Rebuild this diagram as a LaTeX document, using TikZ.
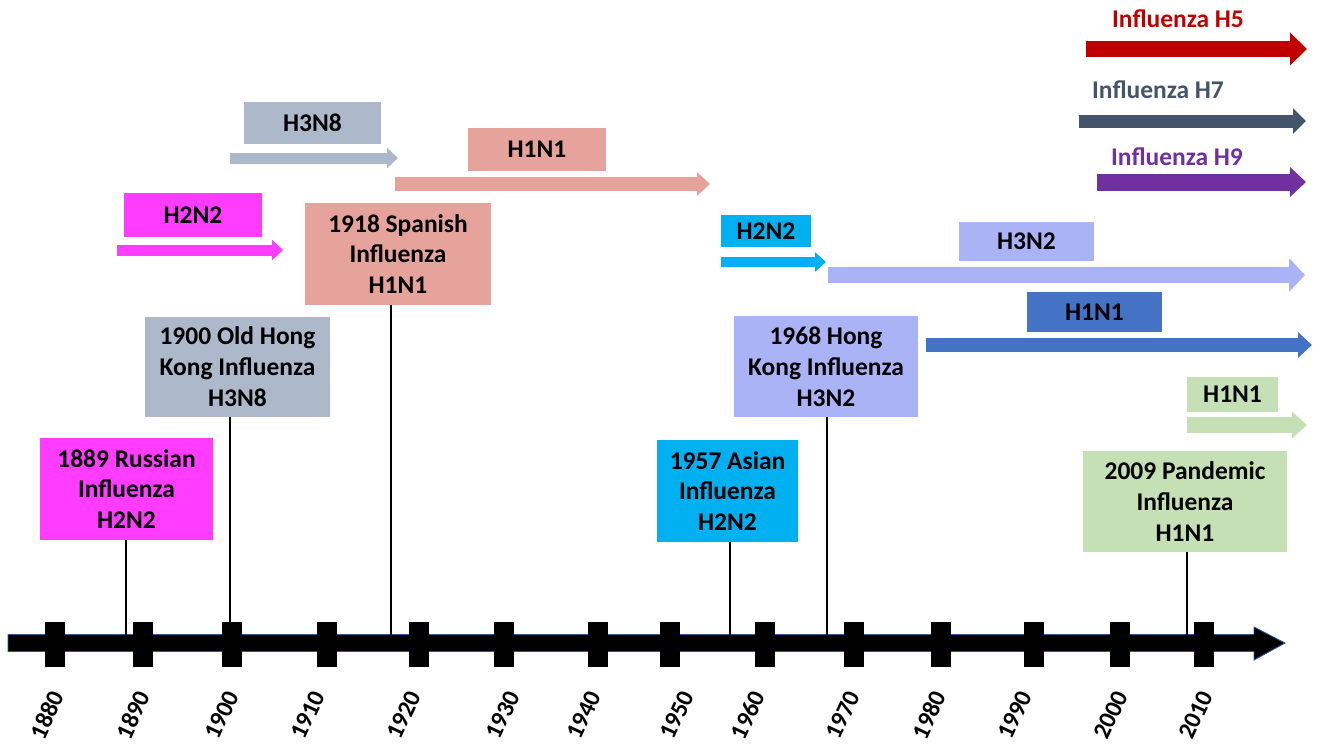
\documentclass[tikz,border=0pt]{standalone}
\usepackage{fontspec}
\setmainfont{Carlito}
\usetikzlibrary{arrows.meta}
\usetikzlibrary{math}

\definecolor{russiamag}{HTML}{FF3CFF}
\definecolor{oldhkgray}{HTML}{ADB9CA}
\definecolor{spansalmon}{HTML}{E5A39B}
\definecolor{asiancyan}{HTML}{00B0F0}
\definecolor{hkperi}{HTML}{AAB3F6}
\definecolor{swineblue}{HTML}{4472C4}
\definecolor{pandgreen}{HTML}{C5E0B4}
\definecolor{hfivered}{HTML}{C00000}
\definecolor{hsevenslate}{HTML}{44546A}
\definecolor{hninepurple}{HTML}{7030A0}
\definecolor{axisedge}{HTML}{2F5597}

\begin{document}
\begin{tikzpicture}[x=0.02cm, y=-0.02cm,
    event/.style={fill=#1, align=center, inner sep=0pt,
        font=\fontsize{14.5}{17.6}\selectfont\bfseries},
    tag/.style={fill=#1, inner sep=0pt,
        font=\fontsize{14.5}{17.6}\selectfont\bfseries},
    band/.style n args={4}{draw=#1, line width=#2,
        -{Triangle[length=#3, width=#4]}},
    yearlbl/.style={rotate=65, inner sep=0pt,
        font=\fontsize{14}{16}\selectfont\bfseries},
    stem/.style={black, line width=1.3pt}]

% Position settings
\tikzmath{
    \AxisY = 643;
    \AxisTop = 635;
    \LabelY = 715;
}

\useasboundingbox (0,0) rectangle (1322,752);

% Draws time axis
\filldraw [fill=black, draw=axisedge, line width=0.5pt]
    (8,634.5) -- (1254,634.5) -- (1254,627) -- (1285,\AxisY)
    -- (1254,660) -- (1254,651.5) -- (8,651.5) -- cycle;

% Draws ticks and years
\foreach \yr/\tx/\lx in {1880/55/47, 1890/143/133, 1900/232/222, 1910/327/308,
    1920/419/404, 1930/504/503, 1940/598/584, 1950/670/677, 1960/765/748,
    1970/854/843, 1980/941/929, 1990/1034/1015, 2000/1120/1111, 2010/1204/1196}{
    \fill [black] (\tx-10,622) rectangle (\tx+10,667);
    \node [yearlbl] (yr\yr) at (\lx,\LabelY) {\yr};
}

% Pandemic boxes
\node [event=russiamag, minimum width=3.46cm, minimum height=2.04cm]
    (russia) at (126.5,489) {1889 Russian\\Influenza\\H2N2};
\node [event=oldhkgray, minimum width=3.7cm, minimum height=2.0cm]
    (oldhk) at (237.5,367) {1900 Old Hong\\Kong Influenza\\H3N8};
\node [event=spansalmon, minimum width=3.72cm, minimum height=2.04cm]
    (spanish) at (398,254) {1918 Spanish\\Influenza\\H1N1};
\node [event=asiancyan, minimum width=2.82cm, minimum height=2.04cm]
    (asian) at (727.5,491) {1957 Asian\\Influenza\\H2N2};
\node [event=hkperi, minimum width=3.68cm, minimum height=2.02cm]
    (hksixeight) at (826,366.5) {1968 Hong\\Kong Influenza\\H3N2};
\node [event=pandgreen, minimum width=4.08cm, minimum height=2.02cm]
    (pandemic) at (1185,501.5) {2009 Pandemic\\Influenza\\H1N1};

% Draws stems down to the axis
\foreach \nm/\sx in {russia/126, oldhk/230, spanish/391, asian/730,
    hksixeight/827, pandemic/1187}{
    \coordinate (s\nm) at (\sx,\AxisTop);
    \draw [stem] (s\nm) -- (s\nm |- \nm.south);
}

% Subtype tags
\node [tag=russiamag, minimum width=2.76cm, minimum height=0.88cm]
    (tagrussia) at (193,215) {H2N2};
\node [tag=oldhkgray, minimum width=2.74cm, minimum height=0.84cm]
    (tagoldhk) at (312.5,123) {H3N8};
\node [tag=spansalmon, minimum width=2.76cm, minimum height=0.86cm]
    (tagspanish) at (537,149.5) {H1N1};
\node [tag=asiancyan, minimum width=1.8cm, minimum height=0.64cm]
    (tagasian) at (766,231) {H2N2};
\node [tag=hkperi, minimum width=2.7cm, minimum height=0.78cm]
    (taghk) at (1026.5,241.5) {H3N2};
\node [tag=swineblue, minimum width=2.7cm, minimum height=0.8cm]
    (tagswine) at (1094.5,312) {H1N1};
\node [tag=pandgreen, minimum width=1.82cm, minimum height=0.7cm]
    (tagpandemic) at (1232.5,394.5) {H1N1};

% Avian subtype labels
\node [tag=white, text=hfivered] (hfive) at (1178,19) {Influenza H5};
\node [tag=white, text=hsevenslate] (hseven) at (1158,90) {Influenza H7};
\node [tag=white, text=hninepurple] (hnine) at (1177,157) {Influenza H9};

% Draws circulation arrows
\coordinate (c5a) at (1086,49);   \coordinate (c5b) at (1307,49);
\coordinate (c7a) at (1079,121);  \coordinate (c7b) at (1306,121);
\coordinate (c9a) at (1097,182);  \coordinate (c9b) at (1306,182);
\coordinate (c38a) at (230,158);  \coordinate (c38b) at (398,158);
\coordinate (c11a) at (395,184);  \coordinate (c11b) at (710,184);
\coordinate (c22a) at (117,250);  \coordinate (c22b) at (283,250);
\coordinate (c22c) at (721,262);  \coordinate (c22d) at (826,262);
\coordinate (c32a) at (828,275);  \coordinate (c32b) at (1305,275);
\coordinate (c11c) at (926,345);  \coordinate (c11d) at (1312,345);
\coordinate (c11e) at (1187,425); \coordinate (c11f) at (1307,425);

\draw [band={hfivered}{0.32cm}{0.34cm}{0.64cm}] (c5a) -- (c5b);
\draw [band={hsevenslate}{0.26cm}{0.26cm}{0.5cm}] (c7a) -- (c7b);
\draw [band={hninepurple}{0.34cm}{0.32cm}{0.58cm}] (c9a) -- (c9b);
\draw [band={oldhkgray}{0.22cm}{0.22cm}{0.4cm}] (c38a) -- (c38b);
\draw [band={spansalmon}{0.28cm}{0.26cm}{0.46cm}] (c11a) -- (c11b);
\draw [band={russiamag}{0.22cm}{0.22cm}{0.4cm}] (c22a) -- (c22b);
\draw [band={asiancyan}{0.2cm}{0.22cm}{0.38cm}] (c22c) -- (c22d);
\draw [band={hkperi}{0.32cm}{0.32cm}{0.66cm}] (c32a) -- (c32b);
\draw [band={swineblue}{0.28cm}{0.28cm}{0.5cm}] (c11c) -- (c11d);
\draw [band={pandgreen}{0.32cm}{0.3cm}{0.52cm}] (c11e) -- (c11f);

\end{tikzpicture}
\end{document}
